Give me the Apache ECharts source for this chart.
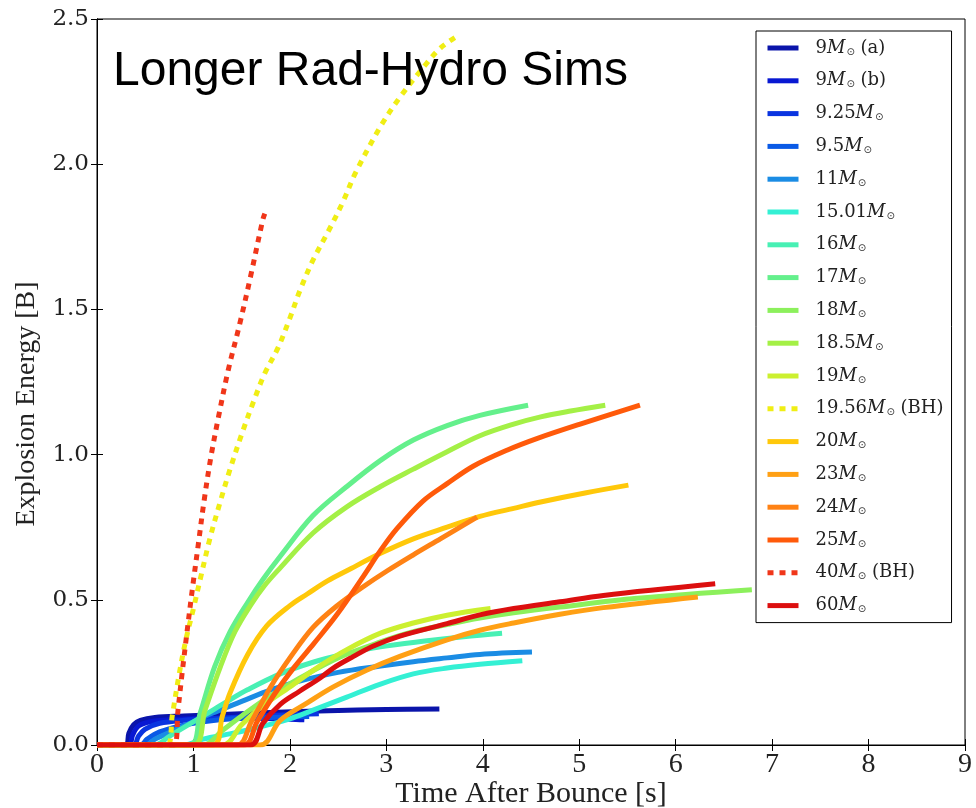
<!DOCTYPE html>
<html>
<head>
<meta charset="utf-8">
<script src="https://cdn.jsdelivr.net/npm/echarts@6/dist/echarts.min.js"></script>
<style>
html,body{margin:0;padding:0;background:#fff;}
#c{width:976px;height:808px;}
</style>
</head>
<body>
<div id="c"></div>
<script>
// ---- data: [time after bounce (s), explosion energy (B)] ----
const m9a   = [[0,0],[0.3,0],[0.33,0.04],[0.38,0.07],[0.45,0.085],[0.6,0.095],[0.9,0.1],[1.3,0.105],[1.8,0.112],[2.4,0.118],[3.0,0.122],[3.55,0.124]];
const m9b   = [[0,0],[0.33,0],[0.37,0.035],[0.43,0.065],[0.55,0.08],[0.8,0.088],[1.2,0.092],[1.6,0.092],[2.0,0.089],[2.15,0.087]];
const m925  = [[0,0],[0.38,0],[0.43,0.03],[0.5,0.055],[0.65,0.075],[0.9,0.085],[1.3,0.093],[1.7,0.1],[2.0,0.104],[2.3,0.108]];
const m95   = [[0,0],[0.45,0],[0.52,0.02],[0.65,0.045],[0.85,0.065],[1.1,0.08],[1.4,0.09],[1.8,0.095],[2.2,0.098]];
const m11   = [[0,0],[0.5,0],[0.6,0.02],[0.8,0.05],[1.0,0.08],[1.2,0.11],[1.5,0.15],[1.8,0.19],[2.1,0.22],[2.5,0.25],[2.94,0.272],[3.28,0.287],[3.63,0.3],[3.97,0.312],[4.51,0.32]];
const m1501 = [[0,0],[0.9,0],[1.1,0.02],[1.4,0.04],[1.7,0.063],[2.0,0.09],[2.24,0.12],[2.59,0.165],[2.94,0.21],[3.28,0.245],[3.63,0.265],[3.97,0.278],[4.41,0.29]];
const m16   = [[0,0],[0.6,0],[0.75,0.03],[0.95,0.07],[1.15,0.11],[1.35,0.15],[1.56,0.19],[1.9,0.245],[2.24,0.285],[2.59,0.315],[2.94,0.338],[3.4,0.358],[3.8,0.373],[4.2,0.385]];
const m17   = [[0,0],[0.96,0],[1.07,0.11],[1.22,0.27],[1.38,0.39],[1.56,0.49],[1.72,0.57],[1.9,0.65],[2.24,0.79],[2.59,0.89],[2.94,0.98],[3.28,1.05],[3.63,1.1],[3.97,1.135],[4.47,1.17]];
const m18   = [[0,0],[1.1,0],[1.3,0.05],[1.5,0.1],[1.8,0.17],[2.1,0.23],[2.5,0.3],[2.94,0.355],[3.28,0.39],[3.63,0.415],[3.97,0.437],[4.32,0.455],[4.8,0.475],[5.6,0.505],[6.79,0.535]];
const m185  = [[0,0],[1.0,0],[1.12,0.12],[1.28,0.27],[1.43,0.39],[1.59,0.48],[1.74,0.55],[1.9,0.61],[2.24,0.73],[2.59,0.82],[2.94,0.89],[3.28,0.95],[3.63,1.01],[3.97,1.065],[4.32,1.105],[4.6,1.13],[4.91,1.15],[5.27,1.17]];
const m19   = [[0,0],[1.3,0],[1.5,0.07],[1.7,0.13],[2.0,0.2],[2.3,0.27],[2.6,0.33],[2.94,0.385],[3.28,0.42],[3.63,0.447],[4.08,0.47]];
const m1956 = [[0,0],[0.73,0],[0.78,0.1],[0.85,0.24],[0.92,0.36],[1.0,0.47],[1.07,0.57],[1.17,0.71],[1.28,0.84],[1.38,0.95],[1.5,1.07],[1.62,1.18],[1.74,1.28],[1.88,1.37],[2.0,1.47],[2.11,1.57],[2.24,1.67],[2.4,1.77],[2.55,1.87],[2.68,1.97],[2.94,2.13],[3.14,2.23],[3.4,2.34],[3.56,2.4],[3.73,2.44]];
const m20   = [[0,0],[1.2,0],[1.3,0.1],[1.38,0.18],[1.56,0.31],[1.76,0.41],[2.0,0.48],[2.18,0.52],[2.39,0.565],[2.59,0.6],[2.94,0.66],[3.28,0.71],[3.63,0.75],[3.97,0.787],[4.32,0.815],[4.6,0.837],[5.06,0.868],[5.51,0.895]];
const m23   = [[0,0],[1.69,0],[1.9,0.085],[2.18,0.145],[2.45,0.2],[2.8,0.258],[3.14,0.305],[3.63,0.362],[3.97,0.395],[4.32,0.42],[4.8,0.45],[5.25,0.473],[6.23,0.51]];
const m24   = [[0,0],[1.45,0],[1.6,0.08],[1.8,0.2],[2.0,0.3],[2.24,0.405],[2.49,0.48],[2.76,0.545],[3.01,0.6],[3.28,0.655],[3.56,0.71],[3.94,0.785]];
const m25   = [[0,0],[1.52,0],[1.66,0.08],[1.85,0.18],[2.05,0.27],[2.25,0.35],[2.49,0.45],[2.76,0.58],[2.94,0.67],[3.11,0.745],[3.38,0.84],[3.63,0.9],[3.9,0.96],[4.25,1.015],[4.56,1.055],[5.01,1.105],[5.63,1.17]];
const m40   = [[0,0],[0.8,0],[0.84,0.12],[0.88,0.24],[0.93,0.38],[0.99,0.54],[1.05,0.69],[1.11,0.84],[1.18,0.99],[1.26,1.13],[1.36,1.29],[1.48,1.45],[1.59,1.61],[1.72,1.81],[1.74,1.83]];
const m60   = [[0,0],[1.59,0],[1.72,0.075],[1.9,0.14],[2.1,0.185],[2.31,0.23],[2.45,0.265],[2.66,0.305],[2.86,0.34],[3.14,0.375],[3.63,0.418],[3.97,0.448],[4.32,0.47],[4.8,0.493],[5.25,0.515],[6.41,0.555]];

const seriesData = [m9a,m9b,m925,m95,m11,m1501,m16,m17,m18,m185,m19,m1956,m20,m23,m24,m25,m40,m60];
const massLabels = ['9','9','9.25','9.5','11','15.01','16','17','18','18.5','19','19.56','20','23','24','25','40','60'];
const suffixes   = [' (a)',' (b)','','','','','','','','','',' (BH)','','','','',' (BH)',''];
const dotted     = [false,false,false,false,false,false,false,false,false,false,false,true,false,false,false,false,true,false];
const colors = ['#0a14aa','#0818d2','#0a34e0','#0a5ae6','#1a8ce4','#34f0d4','#48f0b4','#64f08c','#8cf05c','#a4f046','#ccf030','#f0ee14','#ffc80a','#ffa014','#ff8214','#ff5a0a','#f0361a','#dc0f0f'];
const xTickValues = [0,1,2,3,4,5,6,7,8,9];
const yTickValues = [0,0.5,1.0,1.5,2.0,2.5];
const xTitle = 'Time After Bounce [s]';
const yTitle = 'Explosion Energy [B]';
const chartTitle = 'Longer Rad-Hydro Sims';

const names = massLabels.map((m,i)=> m + 'M' + suffixes[i]);

const chart = echarts.init(document.getElementById('c'), null, {renderer:'canvas', width: 976, height: 808});
const serif = 'DejaVu Serif';
const series = seriesData.map((d,i)=>({
  name: names[i],
  type: 'line',
  data: d,
  symbol: 'none',
  smooth: 0.35,
  animation: false,
  color: colors[i],
  itemStyle: {color: colors[i]},
  lineStyle: {width: 5, color: colors[i], type: dotted[i] ? [6,6] : 'solid', cap: 'butt', join:'round'},
  xAxisIndex: 0, yAxisIndex: 0
}));

const option = {
  animation: false,
  backgroundColor: '#fff',
  grid: {left: 97, right: 11, top: 19, bottom: 63, show: true, borderColor: '#000', borderWidth: 1,
         containLabel: false, outerBoundsMode: 'none'},
  xAxis: [{
    type: 'value', min: 0, max: 9, interval: 1, position: 'bottom',
    axisLine: {show: true, lineStyle: {color: '#000', width: 1}},
    axisTick: {show: true, inside: true, length: 6, lineStyle: {color: '#000'}},
    splitLine: {show: false},
    axisLabel: {margin: 6, fontFamily: 'Liberation Serif', fontSize: 28, color: '#222',
      formatter: v => xTickValues.includes(v) ? String(v) : ''}
  },{
    type: 'value', min: 0, max: 9, interval: 1, position: 'top',
    axisLine: {show: true, lineStyle: {color: '#000'}},
    axisTick: {show: true, inside: true, length: 6, lineStyle: {color: '#000'}},
    axisLabel: {show: false}, splitLine: {show: false}
  }],
  yAxis: [{
    type: 'value', min: 0, max: 2.5, interval: 0.5,
    axisLine: {show: true, lineStyle: {color: '#000'}},
    axisTick: {show: true, inside: true, length: 6, lineStyle: {color: '#000'}},
    splitLine: {show: false},
    axisLabel: {margin: 8, fontFamily: serif, fontSize: 23, color: '#222',
      formatter: v => yTickValues.some(t=>Math.abs(t-v)<1e-9) ? v.toFixed(1) : ''}
  },{
    type: 'value', min: 0, max: 2.5, interval: 0.5, position: 'right',
    axisLine: {show: true, lineStyle: {color: '#000'}},
    axisTick: {show: true, inside: true, length: 6, lineStyle: {color: '#000'}},
    axisLabel: {show: false}, splitLine: {show: false}
  }],
  legend: {
    orient: 'vertical', left: 756, top: 31,
    padding: [8, 8, 8, 9],
    backgroundColor: '#fff',
    borderColor: '#000', borderWidth: 1,
    itemWidth: 31, itemHeight: 18, itemGap: 14.8,
    lineStyle: {width: 5},
    itemStyle: {opacity: 0},
    data: names,
    formatter: function(name){
      const i = names.indexOf(name);
      let s = '{n|' + massLabels[i] + '}{m|M}{s|⊙}';
      if (suffixes[i]) s += '{n|' + suffixes[i] + '}';
      return s;
    },
    textStyle: {
      padding: [0,0,0,12],
      lineHeight: 18,
      rich: {
        n: {fontFamily: serif, fontSize: 18, color: '#222', lineHeight: 18},
        m: {fontFamily: serif, fontStyle: 'italic', fontSize: 18, color: '#222', lineHeight: 18},
        s: {fontFamily: 'DejaVu Sans', fontSize: 10, color: '#333', lineHeight: 18, verticalAlign: 'bottom', padding: [6,0,0,1]}
      }
    }
  },
  graphic: [
    {type: 'text', left: 113, top: 48, z: 100,
      style: {text: chartTitle, fontFamily: 'Liberation Sans', fontSize: 48, fill: '#000'}},
    {type: 'text', x: 27, y: 404, rotation: Math.PI/2, z: 100,
      style: {text: yTitle, fontFamily: 'Liberation Serif', fontSize: 28, fill: '#222', align: 'center', verticalAlign: 'middle'}},
    {type: 'text', x: 531, y: 794, z: 100,
      style: {text: xTitle, fontFamily: 'Liberation Serif', fontSize: 30, fill: '#222', align: 'center', verticalAlign: 'middle'}}
  ],
  series: series
};
chart.setOption(option);
</script>
</body>
</html>
